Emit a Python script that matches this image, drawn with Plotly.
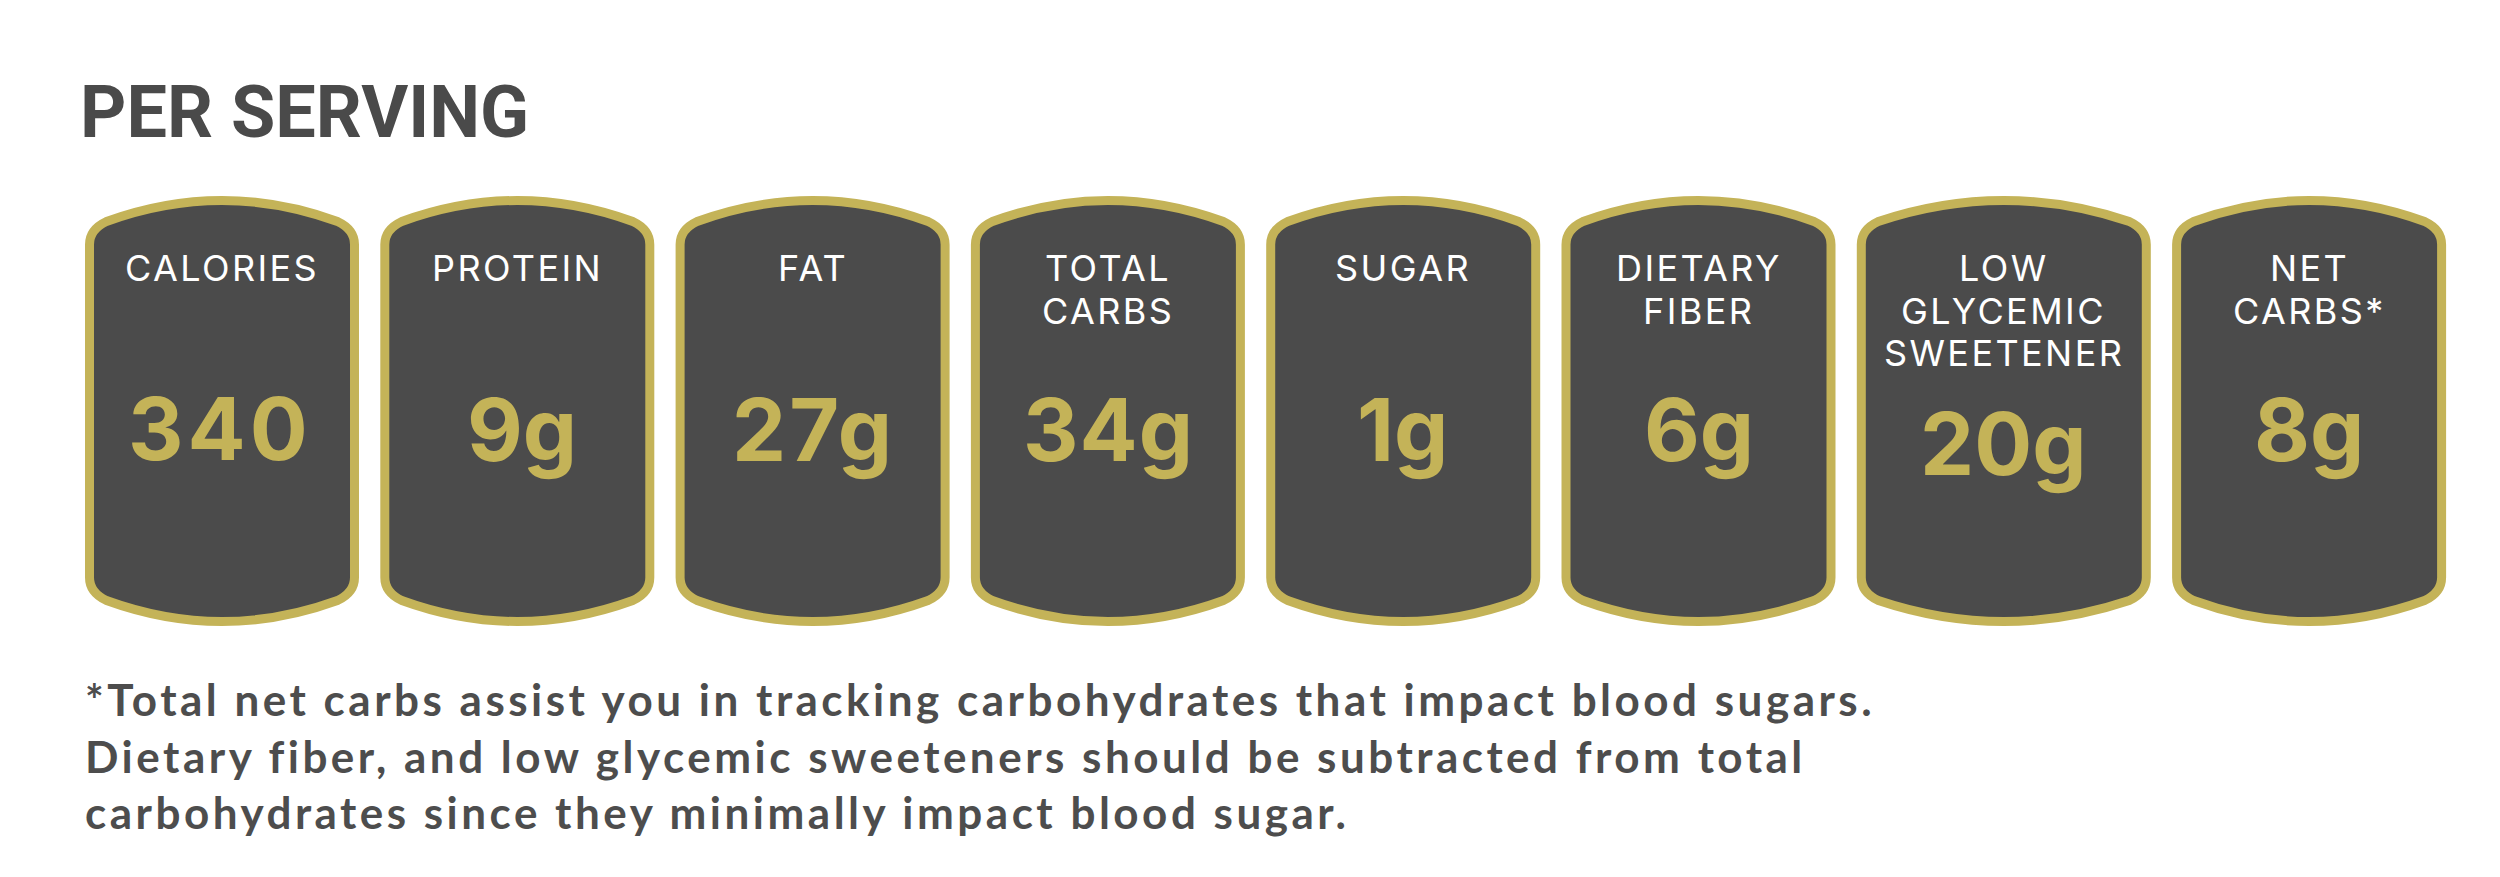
import plotly.graph_objects as go

# card contents
labels = [
    ["CALORIES"],
    ["PROTEIN"],
    ["FAT"],
    ["TOTAL", "CARBS"],
    ["SUGAR"],
    ["DIETARY", "FIBER"],
    ["LOW", "GLYCEMIC", "SWEETENER"],
    ["NET", "CARBS*"],
]
amounts = [340, 9, 27, 34, 1, 6, 20, 8]
units = ["", "g", "g", "g", "g", "g", "g", "g"]

title = "PER SERVING"
footnote = [
    "*Total net carbs assist you in tracking carbohydrates that impact blood sugars.",
    "Dietary fiber, and low glycemic sweeteners should be subtracted from total",
    "carbohydrates since they minimally impact blood sugar.",
]

# page layout, in pixels of the 2500x877 page
card_widths = [274, 274, 274, 274, 274, 274, 294, 274]
card_gap = 21.3
first_left = 85
card_top = 196
card_bottom = 626
amount_rows = [429, 430, 430, 430, 430, 430, 444, 430]
amount_nudge = [-2, 5, 1, 1, -1, 0, 0, 0]
amount_spread = [4, 0, 3, 1, 0, 0, 0, 0]

GOLD = "#c4b358"
DARK = "#4b4b4b"
BORDER = 9


def card_path(left, right):
    # line is centred on the path, so pull everything in by half the border
    x0, x1 = left + BORDER / 2, right - BORDER / 2
    y0, y1 = card_top + BORDER / 2, card_bottom - BORDER / 2
    mid = (x0 + x1) / 2
    return (
        f"M {x0},{y0 + 44} Q {x0},{y0 + 29} {x0 + 17},{y0 + 21} "
        f"Q {mid},{y0 - 21} {x1 - 17},{y0 + 21} "
        f"Q {x1},{y0 + 29} {x1},{y0 + 44} "
        f"L {x1},{y1 - 44} Q {x1},{y1 - 29} {x1 - 17},{y1 - 21} "
        f"Q {mid},{y1 + 21} {x0 + 17},{y1 - 21} "
        f"Q {x0},{y1 - 29} {x0},{y1 - 44} Z"
    )


def spaced(text, px):
    return f'<span style="letter-spacing:{px}px">{text}</span>'


fig = go.Figure()
annotations = []


def add_text(x, y, text, size, color, family, weight=400, anchor="center"):
    annotations.append(dict(
        x=x, y=y, xref="x", yref="y", text=text, showarrow=False,
        xanchor=anchor, yanchor="middle", align=anchor,
        font=dict(family=family, size=size, color=color, weight=weight),
    ))


add_text(78, 112, title, 72, "#4a4a4a", "Roboto", 700, "left")

shapes = []
left = first_left
for i, width in enumerate(card_widths):
    right = left + width
    shapes.append(dict(
        type="path", path=card_path(left, right), xref="x", yref="y",
        fillcolor=DARK, line=dict(color=GOLD, width=BORDER),
    ))
    centre = (left + right) / 2
    for row, line in enumerate(labels[i]):
        add_text(centre, 268 + row * 42.5, spaced(line, 2.4), 36, "white", "Inter")
    add_text(
        centre + amount_nudge[i], amount_rows[i],
        spaced(f"{amounts[i]}{units[i]}", amount_spread[i]),
        86, GOLD, "Inter", 700,
    )
    left = right + card_gap

for row, line in enumerate(footnote):
    add_text(83, 699 + row * 56.5, spaced(line, 3.5), 44, "#4d4d4d", "Lato", 700, "left")

fig.update_layout(
    width=2500,
    height=877,
    margin=dict(l=0, r=0, t=0, b=0),
    paper_bgcolor="white",
    plot_bgcolor="white",
    showlegend=False,
    shapes=shapes,
    annotations=annotations,
    xaxis=dict(range=[0, 2500], visible=False, fixedrange=True),
    yaxis=dict(range=[877, 0], visible=False, fixedrange=True),
)

fig.write_html(
    "out.html",
    config=dict(displayModeBar=False),
    post_script="document.body.style.margin='0';",
)
